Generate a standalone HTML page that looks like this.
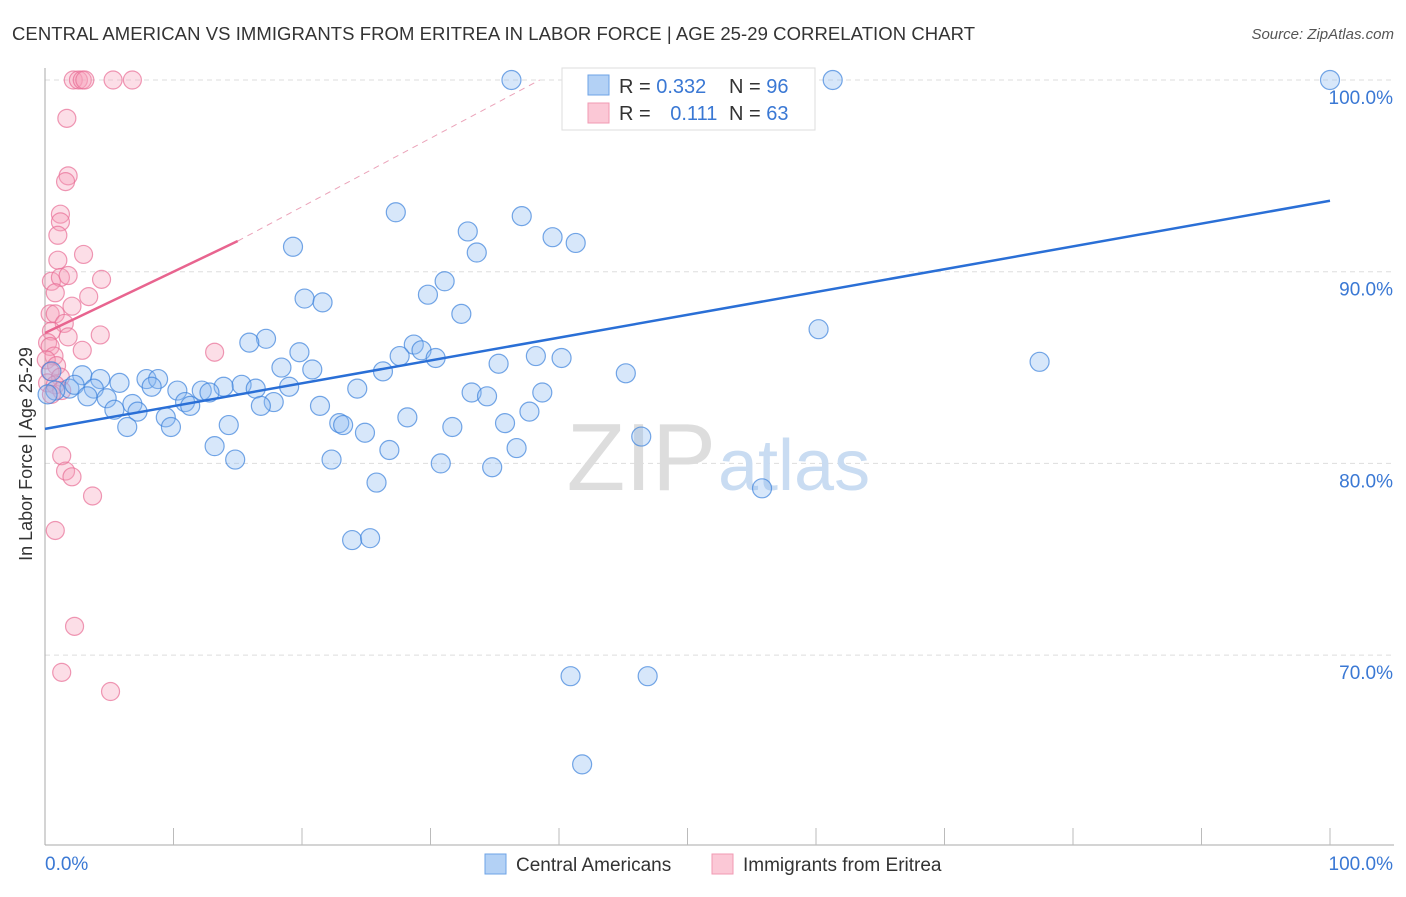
<!DOCTYPE html>
<html><head><meta charset="utf-8">
<style>
body{margin:0;background:#fff;font-family:"Liberation Sans",sans-serif;}
svg text{font-family:"Liberation Sans",sans-serif;}
</style></head>
<body>
<svg id="chart" width="1406" height="892" viewBox="0 0 1406 892">
<text x="12" y="40" font-size="18.5" fill="#333" textLength="963">CENTRAL AMERICAN VS IMMIGRANTS FROM ERITREA IN LABOR FORCE | AGE 25-29 CORRELATION CHART</text>
<text x="1394" y="39" font-size="15" fill="#555" font-style="italic" text-anchor="end">Source: ZipAtlas.com</text>
<g id="grid"></g>
<text x="716" y="490" font-size="96" fill="#ddd" text-anchor="end" font-family="Liberation Serif">ZIP</text>
<text x="718" y="490" font-size="72" fill="#c9dcf2">atlas</text>
<g id="axes"></g>
<g id="pink"></g>
<g id="blue"></g>
<g id="lines"></g>
<text x="38" y="460" font-size="18" fill="#333" transform="rotate(-90 32 460)" text-anchor="middle">In Labor Force | Age 25-29</text>
<g>
<rect x="562" y="68" width="253" height="62" fill="#fff" stroke="#ddd"/>
<rect x="588" y="75" width="21" height="20" fill="#b3d1f5" stroke="#6ea3e6"/>
<rect x="588" y="103" width="21" height="20" fill="#fbc8d6" stroke="#f09ab3"/>
<text x="619" y="93" font-size="20" fill="#333">R = <tspan fill="#3a78d4">0.332</tspan></text>
<text x="729" y="93" font-size="20" fill="#333">N = <tspan fill="#3a78d4">96</tspan></text>
<text x="619" y="120" font-size="20" fill="#333">R = <tspan fill="#3a78d4" dx="14">0.111</tspan></text>
<text x="729" y="120" font-size="20" fill="#333">N = <tspan fill="#3a78d4">63</tspan></text>
</g>
<g>
<rect x="485" y="854" width="21" height="20" fill="#b3d1f5" stroke="#6ea3e6"/>
<text x="516" y="871" font-size="19" fill="#333">Central Americans</text>
<rect x="712" y="854" width="21" height="20" fill="#fbc8d6" stroke="#f09ab3"/>
<text x="743" y="871" font-size="19" fill="#333">Immigrants from Eritrea</text>
</g>
</svg>
<script>
const blueX=[36.3,61.3,100,43.2,48.1,57.7,27.3,37.1,32.9,39.5,41.3,19.3,33.6,31.1,20.2,21.6,29.8,32.4,60.2,17.2,15.9,28.7,19.8,27.6,29.3,30.4,38.2,40.2,77.4,35.3,18.4,20.8,26.3,45.2,2.9,4.3,7.9,8.8,5.8,15.3,13.9,8.3,3.8,1.9,2.3,19.0,24.3,16.4,10.3,12.2,12.8,33.2,34.4,38.7,3.3,4.8,10.9,11.3,6.8,17.8,16.8,5.4,7.2,21.4,37.7,28.2,9.4,14.3,9.8,6.4,22.9,23.2,35.8,31.7,24.9,46.4,13.2,26.8,36.7,14.8,22.3,30.8,34.8,25.8,55.8,23.9,25.3,40.9,46.9,41.8,0.5,0.8,0.2];
const blueY=[100,100,100,99.8,100,100,93.1,92.9,92.1,91.8,91.5,91.3,91.0,89.5,88.6,88.4,88.8,87.8,87.0,86.5,86.3,86.2,85.8,85.6,85.9,85.5,85.6,85.5,85.3,85.2,85.0,84.9,84.8,84.7,84.6,84.4,84.4,84.4,84.2,84.1,84.0,84.0,83.9,83.9,84.1,84.0,83.9,83.9,83.8,83.8,83.7,83.7,83.5,83.7,83.5,83.4,83.2,83.0,83.1,83.2,83.0,82.8,82.7,83.0,82.7,82.4,82.4,82.0,81.9,81.9,82.1,82.0,82.1,81.9,81.6,81.4,80.9,80.7,80.8,80.2,80.2,80.0,79.8,79.0,78.7,76.0,76.1,68.9,68.9,64.3,84.8,83.8,83.6];
const pinkX=[2.2,2.6,2.9,3.1,5.3,6.8,1.7,1.8,1.6,1.2,1.2,1.0,3.0,1.0,0.5,1.2,1.8,4.4,0.8,3.4,2.1,0.4,0.8,1.5,0.5,1.8,4.3,0.2,0.4,2.9,13.2,0.7,0.1,0.9,0.4,1.2,0.2,0.8,1.3,0.5,1.3,1.6,2.1,3.7,0.8,2.3,1.3,5.1];
const pinkY=[100,100,100,100,100,100,98.0,95.0,94.7,93.0,92.6,91.9,90.9,90.6,89.5,89.7,89.8,89.6,88.9,88.7,88.2,87.8,87.8,87.3,86.9,86.6,86.7,86.3,86.1,85.9,85.8,85.6,85.4,85.1,84.8,84.5,84.2,84.1,83.8,83.6,80.4,79.6,79.3,78.3,76.5,71.5,69.1,68.1];
const yTicks=[100,90,80,70];
const xTickLabels=["0.0%","100.0%"];
const blueTrend=[0,81.8,100,93.7];
const pinkTrend=[0,86.8,15,91.6];
const pinkDash=[15,91.6,38.5,100];
const NS="http://www.w3.org/2000/svg";
const X0=45,X1=1330,Y100=80,PXPER=19.17;
const sx=v=>X0+(X1-X0)*v/100;
const sy=v=>Y100+(100-v)*PXPER;
function mk(tag,attrs,parent){const e=document.createElementNS(NS,tag);for(const k in attrs)e.setAttribute(k,attrs[k]);parent.appendChild(e);return e;}
const grid=document.getElementById('grid'),axes=document.getElementById('axes');
yTicks.forEach(t=>{
 const l=mk('line',{x1:45,x2:1394,y1:sy(t),y2:sy(t),stroke:'#ddd','stroke-dasharray':'5,4'},grid);
 
 
 const tx=mk('text',{x:1393,y:sy(t)+24,'font-size':19,fill:'#3a78d4','text-anchor':'end'},axes);
 tx.textContent=t.toFixed(1)+'%';
 
 
});
mk('line',{x1:45,x2:45,y1:68,y2:845,stroke:'#aaa'},axes);
const xa=mk('line',{x1:45,x2:1394,y1:845,y2:845,stroke:'#aaa'},axes);


for(let i=1;i<=10;i++){mk('line',{x1:sx(i*10),x2:sx(i*10),y1:828,y2:845,stroke:'#bbb'},axes);}
const xl0=mk('text',{x:45,y:870,'font-size':19,fill:'#3a78d4'},axes);xl0.textContent=xTickLabels[0];


const xl1=mk('text',{x:1393,y:870,'font-size':19,fill:'#3a78d4','text-anchor':'end'},axes);xl1.textContent=xTickLabels[1];


const pg=document.getElementById('pink');
pinkX.forEach((v,i)=>{const c=mk('circle',{cx:sx(v),cy:sy(pinkY[i]),r:9,fill:'rgba(246,160,186,0.35)',stroke:'rgba(232,110,150,0.7)','stroke-width':1.2},pg);
 
 });
const bg=document.getElementById('blue');
blueX.forEach((v,i)=>{const c=mk('circle',{cx:sx(v),cy:sy(blueY[i]),r:9.5,fill:'rgba(140,185,240,0.35)',stroke:'rgba(60,130,220,0.7)','stroke-width':1.2},bg);
 
 });
const lg=document.getElementById('lines');
const bl=mk('line',{x1:sx(blueTrend[0]),y1:sy(blueTrend[1]),x2:sx(blueTrend[2]),y2:sy(blueTrend[3]),stroke:'#2a6fd6','stroke-width':2.5},lg);


const pl=mk('line',{x1:sx(pinkTrend[0]),y1:sy(pinkTrend[1]),x2:sx(pinkTrend[2]),y2:sy(pinkTrend[3]),stroke:'#e8648f','stroke-width':2.5},lg);


const pd=mk('line',{x1:sx(pinkDash[0]),y1:sy(pinkDash[1]),x2:sx(pinkDash[2]),y2:sy(pinkDash[3]),stroke:'#eba3b9','stroke-width':1,'stroke-dasharray':'6,5'},lg);


</script>
</body></html>
